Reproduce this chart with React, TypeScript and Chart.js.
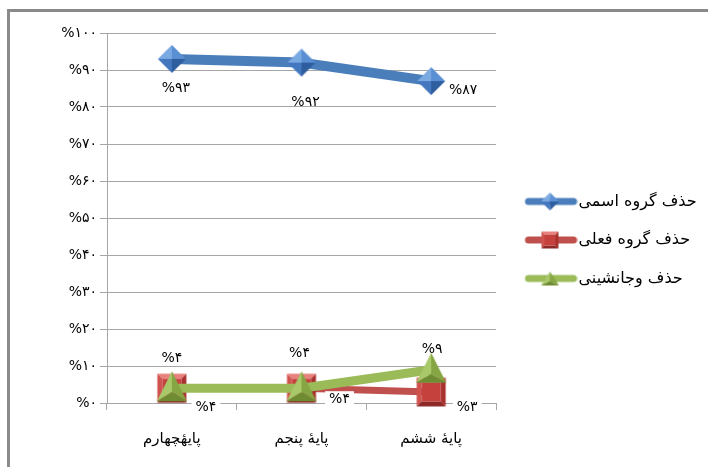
import React, { useEffect, useRef } from 'react';
import { Chart, registerables } from 'chart.js';

Chart.register(...registerables);

// ---- data ----
const categories = ['پایهٔچهارم', 'پایهٔ پنجم', 'پایهٔ ششم'];
const seriesNames = ['حذف گروه اسمی', 'حذف گروه فعلی', 'حذف وجانشینی'];
const nounGroupValues = [93, 92, 87];
const verbGroupValues = [4, 4, 3];
const substitutionValues = [4, 4, 9];
const yTickValues = [0, 10, 20, 30, 40, 50, 60, 70, 80, 90, 100];

// ---- helpers / styles ----
const FA_DIGITS = '۰۱۲۳۴۵۶۷۸۹';
const toFa = (n: number) => String(n).replace(/\d/g, (d) => FA_DIGITS[+d]);
const pct = (n: number) => '%' + toFa(n);

const FONT = "'DejaVu Sans', sans-serif";
const GRID = '#a6a6a6';
const BLUE = '#4a7ebb';
const RED = '#c0504d';
const GREEN = '#9bbb59';

// label offsets relative to each point (dx, dy)
const labelOffsets = [
  [[4, 29], [4, 40], [32, 9]],
  [[34, 19], [38, 11], [36, 15]],
  [[0, -30], [-2, -35], [1, -20]],
];

type Face = { pts: number[][]; color: string };

function makeCanvas(w: number, h: number) {
  const c = document.createElement('canvas');
  c.width = w;
  c.height = h;
  return c;
}

function drawFaces(ctx: CanvasRenderingContext2D, faces: Face[]) {
  faces.forEach((f) => {
    ctx.beginPath();
    ctx.moveTo(f.pts[0][0], f.pts[0][1]);
    for (let i = 1; i < f.pts.length; i++) ctx.lineTo(f.pts[i][0], f.pts[i][1]);
    ctx.closePath();
    ctx.fillStyle = f.color;
    ctx.fill();
  });
}

function diamondFaces(cx: number, cy: number, r: number): Face[] {
  return [
    { pts: [[cx, cy], [cx - r, cy], [cx, cy - r]], color: '#7ba9e2' },
    { pts: [[cx, cy], [cx, cy - r], [cx + r, cy]], color: '#5a8fd4' },
    { pts: [[cx, cy], [cx - r, cy], [cx, cy + r]], color: '#4377bf' },
    { pts: [[cx, cy], [cx + r, cy], [cx, cy + r]], color: '#2f5e9f' },
  ];
}

function squareFaces(cx: number, cy: number, h: number, b: number): Face[] {
  const l = cx - h, r = cx + h, t = cy - h, bt = cy + h;
  const il = l + b, ir = r - b, it = t + b, ib = bt - b;
  return [
    { pts: [[l, t], [r, t], [ir, it], [il, it]], color: '#e8817d' },
    { pts: [[l, t], [il, it], [il, ib], [l, bt]], color: '#d0524e' },
    { pts: [[r, t], [r, bt], [ir, ib], [ir, it]], color: '#a9322f' },
    { pts: [[l, bt], [il, ib], [ir, ib], [r, bt]], color: '#8c2826' },
    { pts: [[il, it], [ir, it], [ir, ib], [il, ib]], color: '#c4413d' },
  ];
}

function triangleFaces(cx: number, top: number, w: number, h: number): Face[] {
  const apex = [cx, top];
  const bl = [cx - w / 2, top + h];
  const br = [cx + w / 2, top + h];
  const ctr = [cx, top + h * 0.7];
  return [
    { pts: [apex, bl, ctr], color: '#a8c86a' },
    { pts: [apex, ctr, br], color: '#86a543' },
    { pts: [bl, br, ctr], color: '#6e8c32' },
  ];
}

function pointImage(kind: number) {
  if (kind === 0) {
    const c = makeCanvas(32, 32);
    drawFaces(c.getContext('2d')!, diamondFaces(16, 16, 14));
    return c;
  }
  if (kind === 1) {
    const c = makeCanvas(32, 32);
    drawFaces(c.getContext('2d')!, squareFaces(16, 16, 14.5, 5));
    return c;
  }
  const c = makeCanvas(32, 36);
  drawFaces(c.getContext('2d')!, triangleFaces(16, 1, 30, 30));
  return c;
}

function legendImage(kind: number) {
  const c = makeCanvas(66, 20);
  const ctx = c.getContext('2d')!;
  const color = [BLUE, RED, GREEN][kind];
  ctx.strokeStyle = color;
  ctx.lineWidth = 7;
  ctx.lineCap = 'round';
  ctx.beginPath();
  ctx.moveTo(17, 10);
  ctx.lineTo(62, 10);
  ctx.stroke();
  if (kind === 0) drawFaces(ctx, diamondFaces(38.5, 10, 9));
  else if (kind === 1) drawFaces(ctx, squareFaces(38.5, 10, 8.5, 3));
  else drawFaces(ctx, triangleFaces(38.5, 3, 18, 14));
  return c;
}

const dataLabelPlugin = {
  id: 'dataLabels',
  afterDatasetsDraw(chart: any) {
    const ctx: CanvasRenderingContext2D = chart.ctx;
    ctx.save();
    ctx.font = `14px ${FONT}`;
    ctx.textAlign = 'center';
    ctx.textBaseline = 'middle';
    chart.data.datasets.forEach((ds: any, i: number) => {
      const meta = chart.getDatasetMeta(i);
      meta.data.forEach((pt: any, j: number) => {
        const [dx, dy] = labelOffsets[i][j];
        const x = pt.x + dx;
        const y = pt.y + dy;
        const text = pct(ds.data[j]);
        if (i === 1) {
          const w = ctx.measureText(text).width + 8;
          ctx.fillStyle = '#ffffff';
          ctx.fillRect(x - w / 2, y - 8, w, 16);
        }
        ctx.fillStyle = '#000000';
        ctx.fillText(text, x, y);
      });
    });
    ctx.restore();
  },
};

export default function App() {
  const canvasRef = useRef<HTMLCanvasElement | null>(null);

  useEffect(() => {
    const canvas = canvasRef.current;
    if (!canvas) return;

    const legendFontSize = 16;
    const legendPadding = 22.5;
    const boxW = 52;
    const legendSpace = 212; // canvas width (708) minus the plot's right edge (496)
    const m = document.createElement('canvas').getContext('2d')!;
    m.font = `normal ${legendFontSize}px ${FONT}`;
    const maxText = Math.max(...seriesNames.map((s) => m.measureText(s).width));
    const legendWidth = Math.min(legendSpace, legendPadding + boxW + legendFontSize / 2 + maxText + 10);
    const padRight = Math.max(0, legendSpace - legendWidth);

    const pointImgs = [pointImage(0), pointImage(1), pointImage(2)];
    const legendImgs = [legendImage(0), legendImage(1), legendImage(2)];

    const mk = (i: number, data: number[], color: string, width: number, order: number) => ({
      label: seriesNames[i],
      data,
      borderColor: color,
      backgroundColor: color,
      borderWidth: width,
      pointStyle: pointImgs[i] as any,
      pointRadius: 14,
      order,
      clip: false as any,
      tension: 0,
      fill: false,
      borderJoinStyle: 'round' as const,
    });

    const chart = new Chart(canvas, {
      type: 'line',
      data: {
        labels: categories,
        datasets: [
          mk(0, nounGroupValues, BLUE, 10, 2),
          mk(1, verbGroupValues, RED, 7, 1),
          mk(2, substitutionValues, GREEN, 9, 0),
        ],
      },
      options: {
        animation: false,
        responsive: false,
        events: [],
        layout: { padding: { top: 33, bottom: 20, left: 0, right: padRight } },
        scales: {
          x: {
            offset: true,
            grid: { offset: true, drawOnChartArea: false, color: GRID, tickLength: 7 },
            border: { color: GRID },
            ticks: { font: { size: 15, family: FONT }, color: '#000', padding: 20 },
            afterFit: (s: any) => {
              s.height = 44;
            },
          },
          y: {
            min: 0,
            max: 100,
            afterBuildTicks: (s: any) => {
              s.ticks = yTickValues.map((v) => ({ value: v }));
            },
            grid: { color: GRID, tickLength: 7 },
            border: { color: GRID },
            ticks: {
              callback: (v: any) => pct(Number(v)),
              font: { size: 14, family: FONT },
              color: '#000',
              padding: 3,
            },
            afterFit: (s: any) => {
              s.width = 107;
            },
          },
        },
        plugins: {
          tooltip: { enabled: false },
          legend: {
            position: 'right',
            align: 'center',
            maxWidth: legendSpace,
            labels: {
              usePointStyle: true,
              pointStyleWidth: boxW,
              padding: legendPadding,
              color: '#000',
              font: { size: legendFontSize, family: FONT },
              generateLabels: (ch: any) => {
                const items = Chart.defaults.plugins.legend.labels.generateLabels(ch);
                return items
                  .slice()
                  .sort((a: any, b: any) => a.datasetIndex - b.datasetIndex)
                  .map((it: any) => ({ ...it, pointStyle: legendImgs[it.datasetIndex] }));
              },
            },
          },
        },
      } as any,
      plugins: [dataLabelPlugin],
    });

    return () => chart.destroy();
  }, []);

  return (
    <>
      <div
        style={{
          position: 'absolute',
          left: 7,
          top: 9,
          width: 701,
          height: 458,
          borderTop: '3px solid #8a8a8a',
          borderLeft: '3px solid #8a8a8a',
          boxSizing: 'border-box',
          pointerEvents: 'none',
        }}
      />
      <div style={{ position: 'absolute', left: 0, top: 0, width: 708, height: 467 }}>
        <canvas ref={canvasRef} width={708} height={467} style={{ display: 'block' }} />
      </div>
    </>
  );
}
